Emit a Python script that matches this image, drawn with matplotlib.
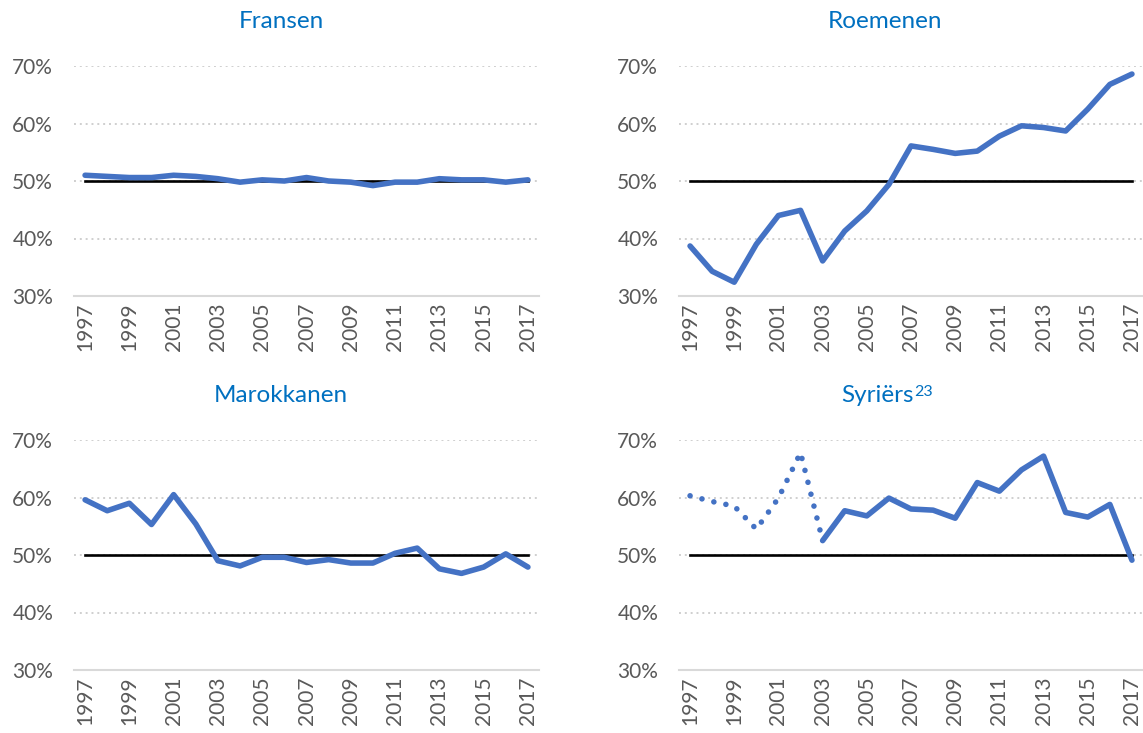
import matplotlib
matplotlib.use("Agg")
import matplotlib.pyplot as plt
from matplotlib.ticker import PercentFormatter

plt.rcParams['font.family'] = ['Lato', 'DejaVu Sans']

years = list(range(1997, 2018))

# aandeel per herkomstgroep (fractie)
fransen = [0.510, 0.508, 0.506, 0.506, 0.510, 0.508, 0.504, 0.498, 0.502, 0.500, 0.506,
           0.500, 0.498, 0.492, 0.498, 0.498, 0.504, 0.502, 0.502, 0.498, 0.502]
roemenen = [0.387, 0.343, 0.324, 0.390, 0.440, 0.449, 0.361, 0.413, 0.448, 0.494, 0.561,
            0.555, 0.548, 0.552, 0.578, 0.596, 0.593, 0.587, 0.625, 0.668, 0.686]
marokkanen = [0.596, 0.577, 0.590, 0.553, 0.605, 0.554, 0.490, 0.481, 0.496, 0.496, 0.487,
              0.492, 0.486, 0.486, 0.503, 0.512, 0.476, 0.468, 0.479, 0.502, 0.479]
# Syriërs: 1997-2003 onzeker (stippellijn), 2003-2017 doorgetrokken
syriers_jaren_onzeker = list(range(1997, 2004))
syriers_onzeker = [0.603, 0.593, 0.585, 0.545, 0.599, 0.678, 0.525]
syriers_jaren = list(range(2003, 2018))
syriers = [0.525, 0.577, 0.568, 0.599, 0.580, 0.578, 0.564, 0.626, 0.611, 0.648, 0.672,
           0.574, 0.566, 0.588, 0.491]
grens = [0.5] * len(years)

blauw = "#4472C4"
titel_kleur = "#0070C0"
grijs = "#595959"
LW = 4.0

W, H = 1143, 733
fig = plt.figure(figsize=(W / 100, H / 100), dpi=100)


def px_axes(x0, x1, ytop, ybot):
    return fig.add_axes([x0 / W, 1 - ybot / H, (x1 - x0) / W, (ybot - ytop) / H])


def opmaak(ax):
    ax.set_xlim(1996.5, 2017.5)
    ax.set_ylim(0.3, 0.7)
    ax.set_yticks([0.3, 0.4, 0.5, 0.6, 0.7])
    ax.yaxis.set_major_formatter(PercentFormatter(1.0, decimals=0))
    ax.set_xticks(years[::2])
    ax.set_xticklabels([str(j) for j in years[::2]], rotation=90)
    for s in ["top", "right", "left"]:
        ax.spines[s].set_visible(False)
    ax.spines["bottom"].set_color("#D9D9D9")
    ax.spines["bottom"].set_linewidth(1.5)
    ax.tick_params(length=0, colors=grijs, labelsize=15)
    ax.tick_params(axis="y", pad=15)
    ax.tick_params(axis="x", pad=5)
    for yv in [0.4, 0.5, 0.6, 0.7]:
        ax.axhline(yv, color="#CFCFCF", lw=1.4, ls=(0, (1, 2)), zorder=0)
    ax.plot(years, grens, color="black", lw=1.9, zorder=2)


ax1 = px_axes(74, 539, 66, 296)
ax2 = px_axes(679, 1143, 66, 296)
ax3 = px_axes(74, 539, 440, 670)
ax4 = px_axes(679, 1143, 440, 670)

for ax in [ax1, ax2, ax3, ax4]:
    opmaak(ax)

ax1.plot(years, fransen, color=blauw, lw=LW, solid_capstyle="round", solid_joinstyle="round", zorder=3)
ax2.plot(years, roemenen, color=blauw, lw=LW, solid_capstyle="round", solid_joinstyle="round", zorder=3)
ax3.plot(years, marokkanen, color=blauw, lw=LW, solid_capstyle="round", solid_joinstyle="round", zorder=3)
ax4.plot(syriers_jaren_onzeker, syriers_onzeker, color=blauw, lw=LW,
         ls=(0, (0.01, 2.2)), dash_capstyle="round", zorder=3)
ax4.plot(syriers_jaren, syriers, color=blauw, lw=LW, solid_capstyle="round", solid_joinstyle="round", zorder=3)

fig.text(281 / W, 1 - 22 / H, "Fransen", color=titel_kleur, fontsize=17.5, ha="center", va="center")
fig.text(885 / W, 1 - 22 / H, "Roemenen", color=titel_kleur, fontsize=17.5, ha="center", va="center")
fig.text(281 / W, 1 - 396 / H, "Marokkanen", color=titel_kleur, fontsize=17.5, ha="center", va="center")
t = fig.text(877 / W, 1 - 396 / H, "Syriërs", color=titel_kleur, fontsize=17.5, ha="center", va="center")
ax4.annotate("23", xy=(1, 1), xycoords=t, xytext=(0.5, 0), textcoords="offset points",
             color=titel_kleur, fontsize=11.5, ha="left", va="top", annotation_clip=False)

fig.savefig("out.png", dpi=100)
